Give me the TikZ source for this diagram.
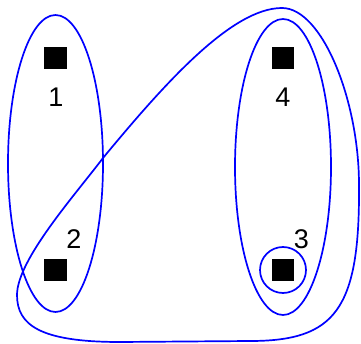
\documentclass[tikz,border=0pt]{standalone}
\usepackage{fontspec}
\setmainfont{Liberation Sans}
\usetikzlibrary{shapes.geometric}
\begin{document}
\begin{tikzpicture}[x=1pt,y=-1pt,
  sq/.style={fill=black,draw=none,minimum size=22.5pt,inner sep=0pt,rectangle},
  lab/.style={font=\fontsize{27}{30}\selectfont,inner sep=0pt},
  hedge/.style={draw=blue,line width=1.7pt,ellipse,inner sep=0pt},
  hcirc/.style={draw=blue,line width=1.7pt,circle,inner sep=0pt,minimum size=46pt},
  bigedge/.style={draw=blue,line width=1.7pt}]
\useasboundingbox (0,0) rectangle (361,344);
\node[hedge,minimum width=95pt,minimum height=297pt] (e12) at (55.5,163.5) {};
\node[hedge,minimum width=96pt,minimum height=296pt] (e34) at (283,167) {};
\node[hcirc] (c3) at (283,270) {};
\node[sq] (n1) at (55.5,58) {};
\node[sq] (n2) at (55.5,270) {};
\node[sq] (n3) at (283,270) {};
\node[sq] (n4) at (283,58) {};
\node[lab] (l1) at (56,97) {1};
\node[lab] (l2) at (74,239) {2};
\node[lab] (l3) at (301.5,239) {3};
\node[lab] (l4) at (283,97) {4};
\draw[bigedge] (103,158) .. controls (165,83) and (232,8) .. (282,8)
  .. controls (322,8) and (359,100) .. (359,185)
  .. controls (360,310) and (335,341) .. (250,341)
  -- (120,342)
  .. controls (40,342) and (17,325) .. (17,295)
  .. controls (17,260) and (75,195) .. (103,158) -- cycle;
\end{tikzpicture}
\end{document}
